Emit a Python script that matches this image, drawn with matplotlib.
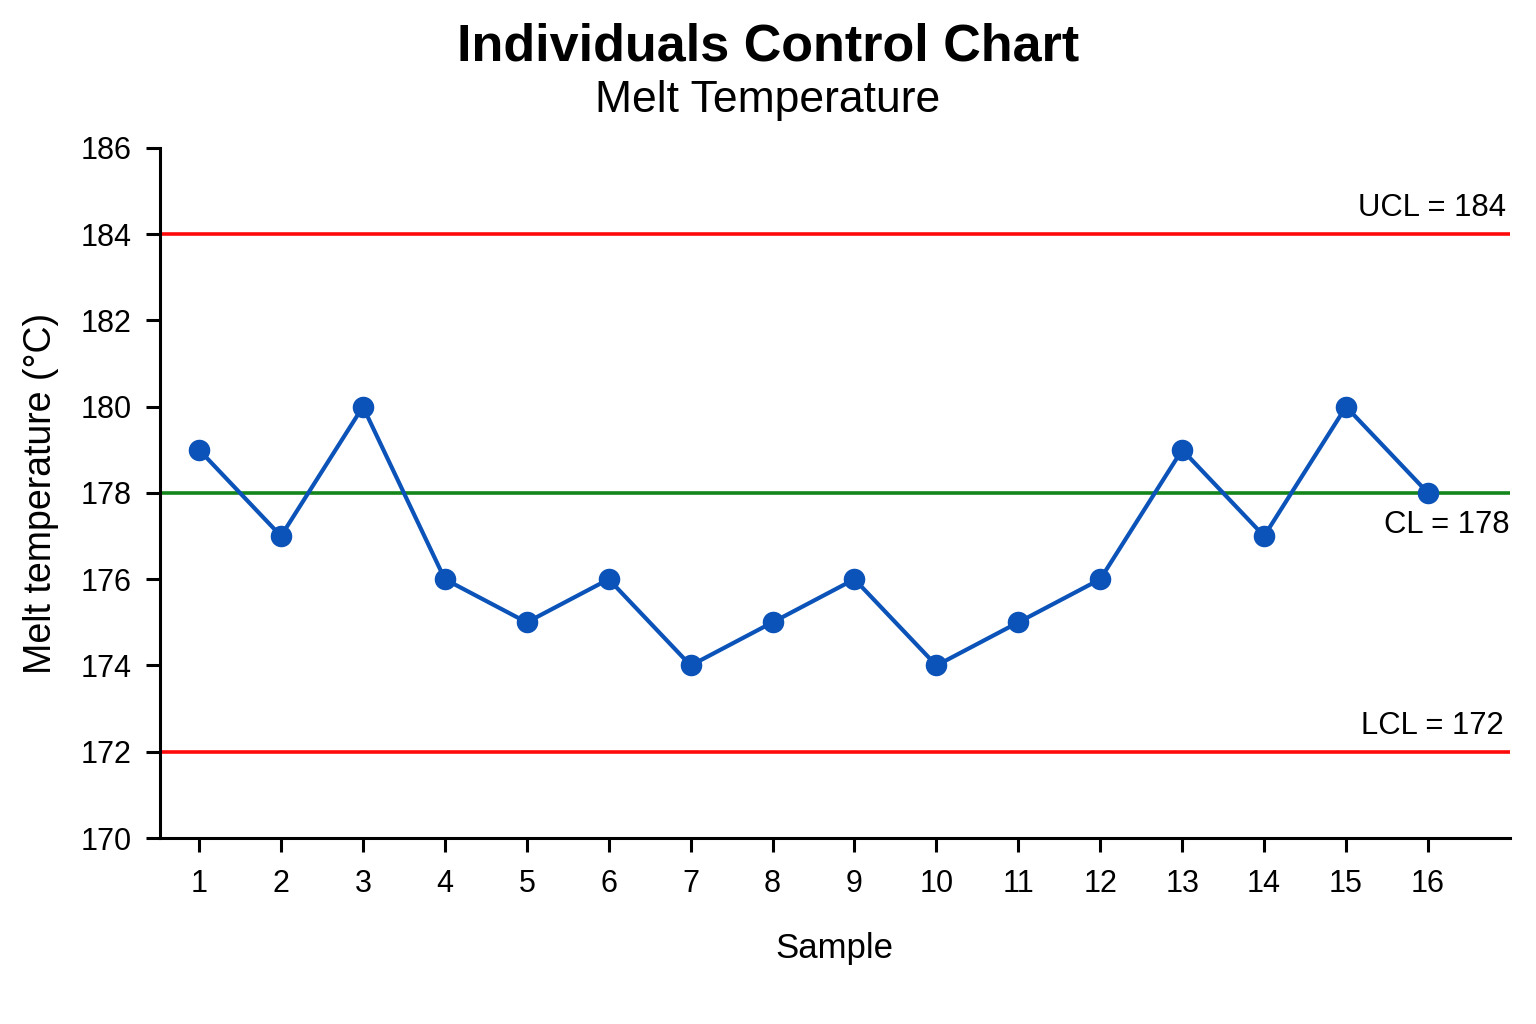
import matplotlib.pyplot as plt

# Sample data
samples = list(range(1, 17))
melt_temp = [179, 177, 180, 176, 175, 176, 174, 175, 176, 174, 175, 176, 179, 177, 180, 178]
ucl = 184
cl = 178
lcl = 172

plt.rcParams['font.family'] = ['Liberation Sans', 'DejaVu Sans']

fig = plt.figure(figsize=(15.36, 10.24), dpi=100)
ax = fig.add_axes([0.104, 0.1816, 0.879, 0.674])

# Control limits
ax.axhline(ucl, color='#ff0a0a', linewidth=2.6, zorder=1)
ax.axhline(lcl, color='#ff0a0a', linewidth=2.6, zorder=1)
ax.axhline(cl, color='#14851a', linewidth=2.6, zorder=1)

# Data
ax.plot(samples, melt_temp, color='#0b53b8', linewidth=3.0, marker='o',
        markersize=14.5, zorder=3)

ax.set_xlim(0.52, 17.0)
ax.set_ylim(170, 186)
ax.set_xticks(samples)
ax.set_yticks(range(170, 187, 2))

# Limit labels
ax.text(16.95, ucl + 0.25, f'UCL = {ucl}', ha='right', va='bottom', fontsize=22.3)
ax.text(17.0, cl - 0.4, f'CL = {cl}', ha='right', va='top', fontsize=22.3)
ax.text(16.92, lcl + 0.25, f'LCL = {lcl}', ha='right', va='bottom', fontsize=22.3)

ax.spines['top'].set_visible(False)
ax.spines['right'].set_visible(False)
ax.spines['left'].set_linewidth(2.2)
ax.spines['bottom'].set_linewidth(2.2)
ax.tick_params(axis='both', labelsize=22, width=2.2, length=10, pad=10)
ax.tick_params(axis='x', pad=12)

ax.set_xlabel('Sample', fontsize=25, labelpad=24)
ax.set_ylabel('Melt temperature (°C)', fontsize=27, labelpad=16)

fig.text(0.5, 0.954, 'Individuals Control Chart', ha='center', va='center',
         fontsize=37.5, fontweight='bold')
fig.text(0.5, 0.902, 'Melt Temperature', ha='center', va='center', fontsize=32)

plt.savefig('out.png', dpi=100)
